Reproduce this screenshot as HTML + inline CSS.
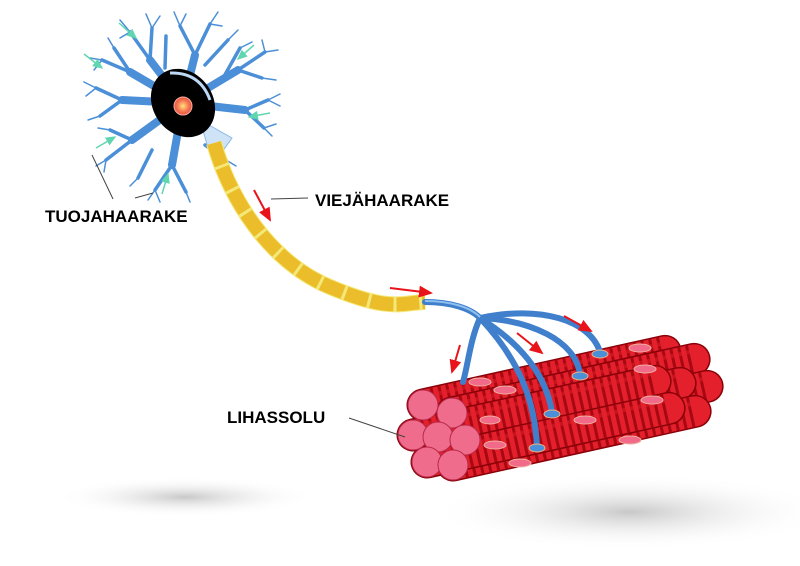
<!DOCTYPE html>
<html><head><meta charset="utf-8"><style>
html,body{margin:0;padding:0;background:#fff;width:800px;height:566px;overflow:hidden}
</style></head><body>
<svg width="800" height="566" viewBox="0 0 800 566" xmlns="http://www.w3.org/2000/svg" font-family="Liberation Sans, sans-serif">
<defs>
<radialGradient id="sh" cx="50%" cy="50%" r="50%"><stop offset="0" stop-color="#c8c8c8"/><stop offset="1" stop-color="#fff" stop-opacity="0"/></radialGradient>
<radialGradient id="nuc" cx="50%" cy="50%" r="50%"><stop offset="0" stop-color="#ffe27a"/><stop offset="0.6" stop-color="#f57a55"/><stop offset="1" stop-color="#e85040"/></radialGradient>
<marker id="ar" markerWidth="8" markerHeight="8" refX="6" refY="3" orient="auto"><path d="M0,0 L7,3 L0,6 z" fill="#e8141a"/></marker>
<marker id="ag" markerWidth="8" markerHeight="8" refX="6" refY="3" orient="auto"><path d="M0,0 L7,3 L0,6 z" fill="#5fd6b0"/></marker>
<g id="cyl">
<line x1="0" y1="0" x2="248" y2="0" stroke="#8a0008" stroke-width="33" stroke-linecap="round"/>
<line x1="0" y1="0" x2="248" y2="0" stroke="#e3202c" stroke-width="30" stroke-linecap="round"/>
<line x1="2" y1="0" x2="248" y2="0" stroke="#a80812" stroke-width="30" stroke-dasharray="3 5"/>
<line x1="0" y1="-8" x2="248" y2="-8" stroke="#e3202c" stroke-width="4" stroke-opacity="0.5"/>
</g>
</defs>
<ellipse cx="185" cy="497" rx="130" ry="20" fill="url(#sh)"/>
<ellipse cx="630" cy="512" rx="200" ry="38" fill="url(#sh)"/>

<!-- dendrites -->
<g stroke="#4a8fd8" fill="none" stroke-linecap="round">
<g stroke-width="8">
<path d="M183,103 L150,60"/><path d="M183,103 L195,55"/><path d="M183,103 L238,70"/><path d="M183,103 L245,110"/>
<path d="M183,103 L172,165"/><path d="M183,103 L132,140"/><path d="M183,103 L122,100"/><path d="M183,103 L130,72"/>
</g>
<g stroke-width="3.5">
<path d="M150,60 L130,32"/><path d="M150,60 L152,28"/><path d="M195,55 L180,26"/><path d="M195,55 L210,24"/><path d="M205,65 L228,40"/>
<path d="M238,70 L265,52"/><path d="M238,70 L262,78"/><path d="M245,110 L268,100"/><path d="M245,110 L264,128"/>
<path d="M172,165 L155,190"/><path d="M172,165 L186,192"/><path d="M132,140 L106,160"/><path d="M132,140 L110,130"/>
<path d="M122,100 L96,88"/><path d="M122,100 L100,116"/><path d="M130,72 L102,60"/><path d="M130,72 L114,48"/>
<path d="M152,150 L138,178"/><path d="M205,145 L226,160"/><path d="M165,68 L166,36"/><path d="M222,80 L240,48"/>
</g>
<g stroke-width="1.5">
<path d="M130,32 L120,20"/><path d="M130,32 L120,38"/><path d="M152,28 L146,14"/><path d="M152,28 L160,16"/><path d="M180,26 L174,12"/><path d="M180,26 L186,14"/><path d="M210,24 L218,12"/><path d="M210,24 L222,26"/>
<path d="M228,40 L238,30"/><path d="M240,48 L252,42"/><path d="M265,52 L278,50"/><path d="M265,52 L262,40"/><path d="M262,78 L276,80"/><path d="M268,100 L280,94"/><path d="M268,100 L280,106"/><path d="M264,128 L272,136"/><path d="M264,128 L276,124"/>
<path d="M155,190 L148,200"/><path d="M155,190 L160,202"/><path d="M186,192 L190,202"/><path d="M106,160 L96,166"/><path d="M106,160 L104,172"/><path d="M110,130 L98,128"/>
<path d="M96,88 L84,82"/><path d="M96,88 L86,96"/><path d="M100,116 L88,120"/><path d="M102,60 L90,58"/><path d="M102,60 L94,70"/><path d="M114,48 L108,38"/>
<path d="M138,178 L130,186"/><path d="M226,160 L236,166"/>
</g>
</g>
<path d="M200,120 L232,138 L222,152 L208,148 Z" fill="#cfe3f7" stroke="#8bb8e6"/>
<ellipse cx="183" cy="103" rx="30" ry="36" transform="rotate(-35 183 103)" fill="#000"/>
<path d="M170,73 Q200,72 210,100" stroke="#bcd8f5" stroke-width="3" fill="none"/>
<ellipse cx="183" cy="106" rx="9" ry="9" fill="url(#nuc)" stroke="#f8b0a0"/>

<!-- axon -->
<path d="M214,143 C230,200 270,262 330,287 S400,303 425,302" fill="none" stroke="#f4e878" stroke-width="16"/>
<path d="M214,143 C230,200 270,262 330,287 S400,303 425,302" fill="none" stroke="#ecbd2a" stroke-width="14" stroke-dasharray="23 3"/>

<!-- muscle: angle ~ -12.5deg -->
<use href="#cyl" transform="translate(423,405) rotate(-12.5)"/>
<use href="#cyl" transform="translate(452,413) rotate(-12.5)"/>
<use href="#cyl" transform="translate(465,440) rotate(-12.5)"/>
<use href="#cyl" transform="translate(438,437) rotate(-12.5)"/>
<use href="#cyl" transform="translate(413,435) rotate(-12.5)"/>
<use href="#cyl" transform="translate(453,465) rotate(-12.5)"/>
<use href="#cyl" transform="translate(427,462) rotate(-12.5)"/>
<g fill="#f06c8c" stroke="#b82848">
<circle cx="423" cy="405" r="15"/><circle cx="452" cy="413" r="15"/>
<circle cx="413" cy="435" r="15"/><circle cx="438" cy="437" r="15"/><circle cx="465" cy="440" r="15"/>
<circle cx="427" cy="462" r="15"/><circle cx="453" cy="465" r="15"/>
</g>
<g fill="#f26a8a" stroke="#f0b0a0">
<ellipse cx="480" cy="382" rx="11" ry="4"/><ellipse cx="505" cy="390" rx="11" ry="4"/>
<ellipse cx="640" cy="348" rx="11" ry="4"/><ellipse cx="645" cy="369" rx="11" ry="4"/>
<ellipse cx="585" cy="420" rx="11" ry="4"/><ellipse cx="652" cy="400" rx="11" ry="4"/>
<ellipse cx="495" cy="445" rx="11" ry="4"/><ellipse cx="520" cy="463" rx="11" ry="4"/>
<ellipse cx="630" cy="440" rx="11" ry="4"/><ellipse cx="490" cy="420" rx="10" ry="4"/>
</g>

<!-- terminal -->
<g fill="none" stroke="#3f7fcc" stroke-width="6" stroke-linecap="round">
<path d="M425,302 C450,302 470,308 480,318"/>
<path d="M480,318 C470,340 468,365 463,382"/>
<path d="M480,318 C510,350 535,390 537,448"/>
<path d="M480,318 C515,340 545,370 552,412"/>
<path d="M480,318 C530,320 575,340 580,374"/>
<path d="M480,318 C540,305 590,320 600,352"/>
</g>
<path d="M425,301 C450,301 470,307 480,317" fill="none" stroke="#8fc0ef" stroke-width="2"/>
<g fill="#4a8fd8" stroke="#f0b080">
<ellipse cx="537" cy="448" rx="8" ry="4"/><ellipse cx="552" cy="414" rx="8" ry="4"/>
<ellipse cx="580" cy="376" rx="8" ry="4"/><ellipse cx="600" cy="354" rx="8" ry="4"/>
</g>

<g stroke="#e8141a" stroke-width="2" marker-end="url(#ar)">
<line x1="254" y1="190" x2="270" y2="220"/>
<line x1="390" y1="288" x2="431" y2="293"/>
<line x1="460" y1="345" x2="452" y2="372"/>
<line x1="517" y1="333" x2="542" y2="353"/>
<line x1="564" y1="316" x2="591" y2="331"/>
</g>
<g stroke="#5fd6b0" stroke-width="1.5" marker-end="url(#ag)">
<line x1="119" y1="23" x2="136" y2="38"/>
<line x1="84" y1="54" x2="102" y2="68"/>
<line x1="254" y1="45" x2="238" y2="59"/>
<line x1="270" y1="113" x2="249" y2="117"/>
<line x1="96" y1="148" x2="115" y2="137"/>
<line x1="162" y1="194" x2="168" y2="174"/>
</g>

<g stroke="#444" stroke-width="1" fill="none">
<line x1="92" y1="155" x2="113" y2="199"/>
<line x1="135" y1="198" x2="153" y2="193"/>
<line x1="271" y1="199" x2="308" y2="198"/>
<line x1="349" y1="418" x2="405" y2="437"/>
</g>
<g font-weight="bold" font-size="17" fill="#000">
<text x="45" y="222">TUOJAHAARAKE</text>
<text x="315" y="206">VIEJÄHAARAKE</text>
<text x="227" y="423">LIHASSOLU</text>
</g>
</svg>
</body></html>
